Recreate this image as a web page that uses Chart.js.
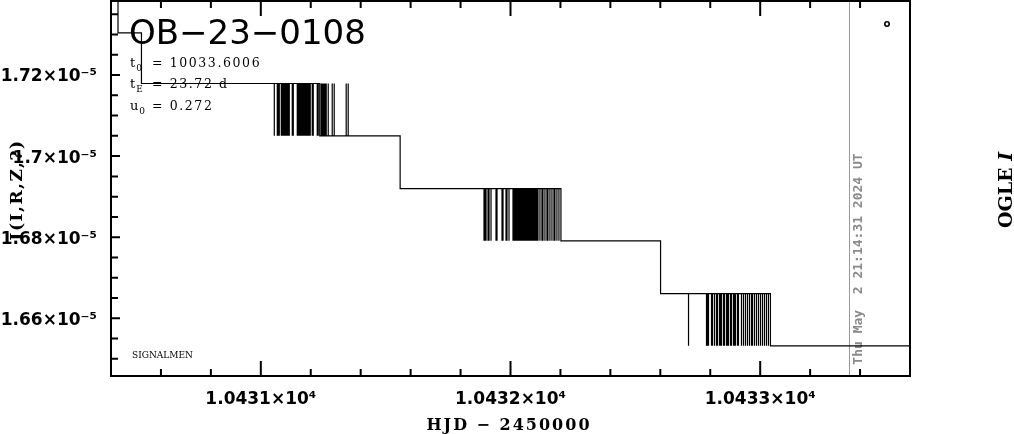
<!DOCTYPE html>
<html>
<head>
<meta charset="utf-8">
<script src="https://cdn.jsdelivr.net/npm/chart.js@4.4.1/dist/chart.umd.min.js"></script>
<style>
  html, body { margin: 0; padding: 0; background: #fff; }
  canvas { display: block; }
</style>
</head>
<body>
<canvas id="lc" width="1014" height="434"></canvas>
<script>
  // flux levels the model curve jumps between (first one is above the frame)
  const fluxLevels = [1.7433e-5, 1.7304e-5, 1.7179e-5, 1.7050e-5, 1.6920e-5, 1.6791e-5, 1.6661e-5, 1.6532e-5];

  // HJD-2450000 where the curve drops down one level
  const stepHjd = [10430.428, 10430.522, 10431.236, 10431.558, 10432.202, 10432.601, 10433.041];

  // short dips to the next level (flicker around the data epochs)
  const dipHjd = [
    10431.054, 10431.066, 10431.070, 10431.074, 10431.082, 10431.086, 10431.090, 10431.094,
    10431.098, 10431.102, 10431.106, 10431.110, 10431.114, 10431.126, 10431.130, 10431.146,
    10431.150, 10431.154, 10431.158, 10431.162, 10431.166, 10431.170, 10431.174, 10431.178,
    10431.182, 10431.186, 10431.190, 10431.194, 10431.198, 10431.206, 10431.210, 10431.226,
    10431.230,
    10431.894, 10431.898, 10431.902, 10431.910, 10431.914, 10431.922, 10431.942, 10431.946,
    10431.966, 10431.970, 10431.982, 10431.986, 10431.994, 10432.010, 10432.014, 10432.018,
    10432.022, 10432.026, 10432.030, 10432.034, 10432.038, 10432.042, 10432.046, 10432.050,
    10432.054, 10432.058, 10432.062, 10432.066, 10432.070, 10432.074, 10432.078, 10432.082,
    10432.086, 10432.090, 10432.094, 10432.098, 10432.102, 10432.106, 10432.110, 10432.118,
    10432.126, 10432.130, 10432.138, 10432.146, 10432.150, 10432.158, 10432.166, 10432.174,
    10432.178, 10432.186, 10432.194,
    10432.713, 10432.785, 10432.789, 10432.793, 10432.805, 10432.809, 10432.817, 10432.825,
    10432.829, 10432.837, 10432.841, 10432.845, 10432.853, 10432.857, 10432.865, 10432.869,
    10432.873, 10432.881, 10432.885, 10432.893, 10432.897, 10432.901, 10432.909, 10432.913,
    10432.925, 10432.933, 10432.941, 10432.949, 10432.957, 10432.965, 10432.969, 10432.977,
    10432.985, 10432.993, 10433.001, 10433.009, 10433.017, 10433.025, 10433.033
  ];

  // short jumps back up to the previous level
  const jumpHjd = [10431.242, 10431.246, 10431.250, 10431.254, 10431.258, 10431.262, 10431.270,
    10431.286, 10431.294, 10431.342, 10431.350];

  const endHjd = 10433.6;
  const nowHjd = 10433.357;   // grey marker line

  const xTicks = [10431, 10432, 10433];
  const xTickLabels = ['1.0431×10⁴', '1.0432×10⁴', '1.0433×10⁴'];
  const yTicks = [1.66e-5, 1.68e-5, 1.70e-5, 1.72e-5];
  const yTickLabels = ['1.66×10⁻⁵', '1.68×10⁻⁵', '1.7×10⁻⁵', '1.72×10⁻⁵'];

  // walk through the events and build the staircase
  const events = [
    ...stepHjd.map(t => ({ t, kind: 'step' })),
    ...dipHjd.map(t => ({ t, kind: 'dip' })),
    ...jumpHjd.map(t => ({ t, kind: 'jump' })),
  ].sort((a, b) => a.t - b.t);

  const curve = [];
  let lev = 0;
  events.forEach(e => {
    const here = fluxLevels[lev];
    if (e.kind === 'step') {
      curve.push({ x: e.t, y: here });
      lev++;
      curve.push({ x: e.t, y: fluxLevels[lev] });
    } else {
      const other = fluxLevels[e.kind === 'dip' ? lev + 1 : lev - 1];
      curve.push({ x: e.t, y: here }, { x: e.t, y: other }, { x: e.t, y: here });
    }
  });
  curve.push({ x: endHjd, y: fluxLevels[lev] });

  function spaced(ctx, px) {
    if ('letterSpacing' in ctx) ctx.letterSpacing = px + 'px';
  }

  function subLine(ctx, x, y, main, sub, rest) {
    spaced(ctx, 0);
    ctx.font = '13px "DejaVu Serif"';
    ctx.fillText(main, x, y);
    const w = ctx.measureText(main).width;
    ctx.font = '9px "DejaVu Serif"';
    ctx.fillText(sub, x + w + 1, y + 4);
    ctx.font = '12.5px "DejaVu Serif"';
    spaced(ctx, 1.6);
    ctx.fillText(rest, 152, y);
    spaced(ctx, 0);
  }

  function upText(ctx, x, y, draw) {
    ctx.save();
    ctx.translate(x, y);
    ctx.rotate(-Math.PI / 2);
    draw();
    ctx.restore();
  }

  const decor = {
    id: 'decor',
    beforeDatasetsDraw(chart) {
      const { ctx, chartArea: a, scales: { x } } = chart;
      ctx.save();
      // grey "now" line and the date stamp
      const nx = Math.round(x.getPixelForValue(nowHjd)) + 0.5;
      ctx.strokeStyle = '#999';
      ctx.lineWidth = 1;
      ctx.beginPath();
      ctx.moveTo(nx, a.top);
      ctx.lineTo(nx, a.bottom);
      ctx.stroke();
      ctx.fillStyle = '#8a8a8a';
      upText(ctx, 859, 259, () => {
        ctx.font = 'bold 13px "DejaVu Sans Mono"';
        ctx.textAlign = 'center';
        ctx.textBaseline = 'middle';
        ctx.fillText('Thu May  2 21:14:31 2024 UT', 0, 0);
      });

      // event name and parameters
      ctx.fillStyle = '#000';
      ctx.textAlign = 'left';
      ctx.textBaseline = 'alphabetic';
      ctx.font = '34px "DejaVu Sans"';
      ctx.fillText('OB−23−0108', 129, 44);
      subLine(ctx, 130, 67, 't', '0', '= 10033.6006');
      subLine(ctx, 130, 88, 't', 'E', '= 23.72 d');
      subLine(ctx, 130, 110, 'u', '0', '= 0.272');
      ctx.font = '9px "DejaVu Serif"';
      ctx.fillText('SIGNALMEN', 132, 358);
      ctx.restore();
    },
    afterDatasetsDraw(chart) {
      const { ctx, chartArea: a, scales: { x, y } } = chart;
      ctx.save();
      ctx.strokeStyle = '#000';
      ctx.lineWidth = 2;
      ctx.strokeRect(a.left, a.top, a.right - a.left, a.bottom - a.top);

      // inward ticks, top and bottom
      ctx.beginPath();
      for (let i = 0; i <= 16; i++) {
        const v = 10430.4 + i * 0.2;
        const px = x.getPixelForValue(v);
        if (px <= a.left + 2 || px >= a.right - 2) continue;
        const len = Math.abs(v - Math.round(v)) < 1e-6 ? 15 : 7;
        ctx.moveTo(px, a.bottom); ctx.lineTo(px, a.bottom - len);
        ctx.moveTo(px, a.top); ctx.lineTo(px, a.top + len);
      }
      // left ticks
      for (let i = 0; i <= 20; i++) {
        const v = 1.645e-5 + i * 0.005e-5;
        const py = y.getPixelForValue(v);
        if (py <= a.top + 2 || py >= a.bottom - 2) continue;
        const major = yTicks.some(t => Math.abs(t - v) < 1e-10);
        ctx.moveTo(a.left, py); ctx.lineTo(a.left + (major ? 9 : 7), py);
      }
      ctx.stroke();

      // legend symbol
      ctx.lineWidth = 1.6;
      ctx.beginPath();
      ctx.arc(887, 24, 2.2, 0, Math.PI * 2);
      ctx.stroke();

      // axis titles
      ctx.fillStyle = '#000';
      ctx.textAlign = 'center';
      ctx.textBaseline = 'alphabetic';
      ctx.font = 'bold 16px "DejaVu Serif"';
      spaced(ctx, 2);
      ctx.fillText('HJD − 2450000', 509, 430);
      upText(ctx, 22, 190, () => {
        ctx.font = 'bold 17px "DejaVu Serif"';
        ctx.textAlign = 'center';
        spaced(ctx, 1.5);
        ctx.fillText('I(I,R,Z,?)', 0, 0);
      });
      spaced(ctx, 0);
      upText(ctx, 1012, 190, () => {
        ctx.font = 'bold 19px "DejaVu Serif"';
        const w1 = ctx.measureText('OGLE ').width;
        ctx.font = 'bold italic 19px "DejaVu Serif"';
        const w2 = ctx.measureText('I').width;
        const x0 = -(w1 + w2) / 2;
        ctx.textAlign = 'left';
        ctx.font = 'bold 19px "DejaVu Serif"';
        ctx.fillText('OGLE ', x0, 0);
        ctx.font = 'bold italic 19px "DejaVu Serif"';
        ctx.fillText('I', x0 + w1, 0);
      });
      ctx.restore();
    }
  };

  const tickFont = { family: 'DejaVu Sans', weight: 'bold', size: 17 };

  const noPad = s => {
    s.paddingTop = 0; s.paddingBottom = 0; s.paddingLeft = 0; s.paddingRight = 0;
  };

  const config = {
    type: 'line',
    data: {
      datasets: [{
        label: 'model',
        data: curve,
        borderColor: '#000',
        borderWidth: 1.2,
        pointRadius: 0,
        fill: false,
        tension: 0,
      }],
    },
    options: {
      responsive: false,
      animation: false,
      devicePixelRatio: 1,
      layout: { padding: { left: 0, right: 104, top: 1, bottom: 0 } },
      plugins: { legend: { display: false }, tooltip: { enabled: false } },
      scales: {
        x: {
          type: 'linear',
          min: 10430.4,
          max: 10433.6,
          grid: { display: false },
          border: { display: false },
          afterBuildTicks: s => { s.ticks = xTicks.map(v => ({ value: v })); },
          afterFit: s => { s.height = 58; noPad(s); },
          ticks: {
            autoSkip: false,
            maxRotation: 0,
            padding: 5,
            color: '#000',
            font: tickFont,
            callback: (v, i) => xTickLabels[i],
          },
        },
        y: {
          min: 1.64577e-5,
          max: 1.73825e-5,
          grid: { display: false },
          border: { display: false },
          afterBuildTicks: s => { s.ticks = yTicks.map(v => ({ value: v })); },
          afterFit: s => { s.width = 111; noPad(s); },
          ticks: {
            autoSkip: false,
            padding: 6,
            labelOffset: 2,
            color: '#000',
            font: tickFont,
            callback: (v, i) => yTickLabels[i],
          },
        },
      },
    },
    plugins: [decor],
  };

  window.lcChart = new Chart(document.getElementById('lc'), config);
</script>
</body>
</html>
